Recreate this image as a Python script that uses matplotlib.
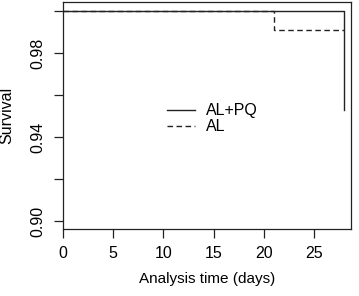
import matplotlib
matplotlib.use("Agg")
import matplotlib.pyplot as plt

plt.rcParams['font.family'] = ['Liberation Sans', 'DejaVu Sans']
fs = 11

# Data
time_alpq = [0, 28, 28]
surv_alpq = [1.0, 1.0, 0.953]
time_al = [0, 21, 28]
surv_al = [1.0, 0.991, 0.991]
xticks = [0, 5, 10, 15, 20, 25]
yticks = [0.90, 0.92, 0.94, 0.96, 0.98, 1.00]
ylabels_shown = {0.90: "0.90", 0.94: "0.94", 0.98: "0.98"}
series_labels = ["AL+PQ", "AL"]

W, H = 359, 296
fig = plt.figure(figsize=(W / 100, H / 100), dpi=100)
ax = fig.add_axes([63 / W, 1 - 229 / H, (351 - 63) / W, (229 - 2) / H])

col = '#222222'
ax.step(time_alpq, surv_alpq, where='post', color=col, lw=1.0, label=series_labels[0])
ax.step(time_al, surv_al, where='post', color=col, lw=1.0, ls=(0, (4, 2.5)), label=series_labels[1])

ax.set_xlim(0, 28.7)
ax.set_ylim(0.8962, 1.0043)

ax.set_xticks(xticks)
ax.set_xticklabels([str(t) for t in xticks], fontsize=fs + 0.5)
ax.set_yticks(yticks)
ax.set_yticklabels([ylabels_shown.get(round(t, 2), "") for t in yticks],
                   fontsize=fs + 0.5, rotation=90, va='center')
ax.tick_params(direction='out', length=6.5, width=0.9, color=col, pad=6)

for s in ax.spines.values():
    s.set_linewidth(0.9)
    s.set_color(col)

ax.set_xlabel("Analysis time (days)", fontsize=fs, labelpad=8)
ax.set_ylabel("Survival", fontsize=fs + 0.5, labelpad=12)

ax.legend(loc='upper left', bbox_to_anchor=(98 / 288, 1 - 95 / 227),
          frameon=False, fontsize=fs + 0.5, handlelength=1.75, handletextpad=0.65,
          labelspacing=0.05, borderaxespad=0)

fig.savefig("out.png", dpi=100)
